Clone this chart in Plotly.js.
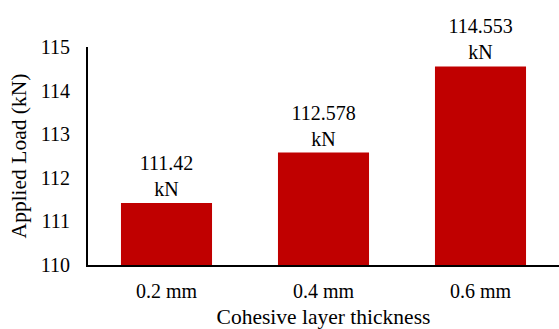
<!DOCTYPE html>
<html><head><meta charset="utf-8">
<script src="https://cdn.plot.ly/plotly-3.0.1.min.js"></script>
<style>body{margin:0;padding:0;}#chart{width:559px;height:329px;}</style>
</head><body><div id="chart"></div>
<script>
const categories = ["0.2 mm", "0.4 mm", "0.6 mm"];
const loads = [111.42, 112.578, 114.553];
const labels = ["111.42<br>kN", "112.578<br>kN", "114.553<br>kN"];
const yTicks = [110, 111, 112, 113, 114, 115];

const font = "Times New Roman, Liberation Serif, serif";
Plotly.newPlot("chart", [{
  type: "bar",
  x: categories,
  y: loads,
  base: 0,
  text: labels,
  textposition: "outside",
  textfont: {family: font, size: 20, color: "#000"},
  marker: {color: "#C00000"},
  cliponaxis: false,
  hoverinfo: "none"
}], {
  width: 559, height: 329,
  margin: {l: 88, r: 0, t: 47, b: 64},
  paper_bgcolor: "#fff", plot_bgcolor: "#fff",
  bargap: 0.42,
  showlegend: false,
  font: {family: font, size: 20, color: "#000"},
  xaxis: {
    showline: true, linecolor: "#000", linewidth: 2, ticks: "",
    showgrid: false, tickfont: {family: font, size: 20},
    ticklabelstandoff: 7,
    title: {text: "Cohesive layer thickness", font: {family: font, size: 21.5}, standoff: 17}
  },
  yaxis: {
    range: [110, 115], tickvals: yTicks, showline: true, linecolor: "#000", linewidth: 2,
    ticks: "", showgrid: false, zeroline: false, tickfont: {family: font, size: 20},
    ticklabelstandoff: 12,
    title: {text: "Applied Load (kN)", font: {family: font, size: 21.5}, standoff: 8}
  }
}, {staticPlot: true});
</script></body></html>
